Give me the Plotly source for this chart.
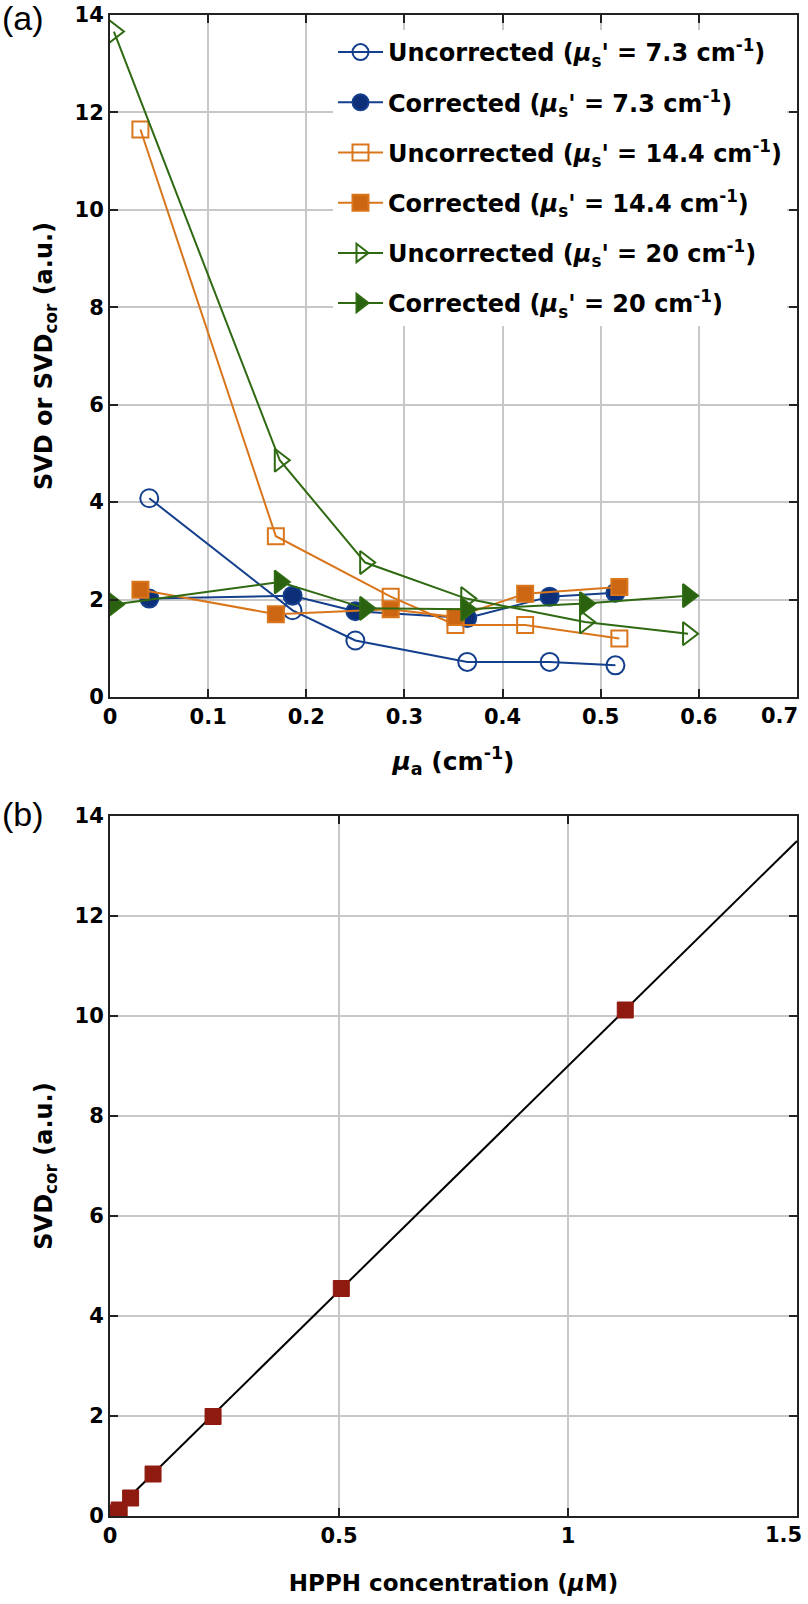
import plotly.graph_objects as go

# ---------------- Panel (a) data ----------------
unc73_x = [0.040, 0.186, 0.250, 0.364, 0.448, 0.515]
unc73_y = [4.08, 1.78, 1.16, 0.72, 0.72, 0.65]
cor73_x = [0.040, 0.186, 0.250, 0.364, 0.448, 0.515]
cor73_y = [2.02, 2.08, 1.76, 1.62, 2.06, 2.14]

unc144_x = [0.031, 0.169, 0.286, 0.352, 0.423, 0.519]
unc144_y = [11.65, 3.30, 2.06, 1.48, 1.48, 1.20]
cor144_x = [0.031, 0.169, 0.286, 0.352, 0.423, 0.519]
cor144_y = [2.20, 1.70, 1.80, 1.64, 2.12, 2.26]

unc20_x = [0.004, 0.173, 0.260, 0.363, 0.484, 0.589]
unc20_y = [13.66, 4.86, 2.76, 2.02, 1.54, 1.30]
cor20_x = [0.004, 0.173, 0.260, 0.363, 0.484, 0.589]
cor20_y = [1.90, 2.36, 1.82, 1.80, 1.92, 2.08]

xa_ticks = [0, 0.1, 0.2, 0.3, 0.4, 0.5, 0.6, 0.7]
xa_ticklabels = ["0", "0.1", "0.2", "0.3", "0.4", "0.5", "0.6", "0.7"]
ya_ticks = [0, 2, 4, 6, 8, 10, 12, 14]

# ---------------- Panel (b) data ----------------
hpph_conc = [0.0, 0.01, 0.02, 0.045, 0.094, 0.225, 0.505, 1.125]
hpph_svd = [0.0, 0.06, 0.12, 0.36, 0.84, 1.99, 4.55, 10.12]
fit_x = [0.0, 1.5]
fit_y = [0.0, 13.5]

xb_ticks = [0, 0.5, 1, 1.5]
xb_ticklabels = ["0", "0.5", "1", "1.5"]
yb_ticks = [0, 2, 4, 6, 8, 10, 12, 14]

BLUE = "#143f8c"
BLUE_F = "#0c2f78"
ORANGE = "#d9761c"
ORANGE_F = "#cc6612"
GREEN = "#2f6a12"
GREEN_F = "#2a6210"
RED = "#8e1a10"

FONT = "DejaVu Sans, Liberation Sans, sans-serif"
LABFONT = "Liberation Sans, Arial, sans-serif"

fig = go.Figure()

def lab(kind, val):
    return (f"{kind} (<i>μ</i><sub>s</sub>' = {val} cm<sup>-1</sup>)")

series = [
    (unc73_x, unc73_y, lab("Uncorrected", "7.3"), BLUE, "circle-open", 18, "white"),
    (cor73_x, cor73_y, lab("Corrected", "7.3"), BLUE, "circle", 18, BLUE_F),
    (unc144_x, unc144_y, lab("Uncorrected", "14.4"), ORANGE, "square-open", 16, "white"),
    (cor144_x, cor144_y, lab("Corrected", "14.4"), ORANGE, "square", 16, ORANGE_F),
    (unc20_x, unc20_y, lab("Uncorrected", "20"), GREEN, "triangle-right-open", 20, "white"),
    (cor20_x, cor20_y, lab("Corrected", "20"), GREEN, "triangle-right", 20, GREEN_F),
]
for i, (xs, ys, name, col, sym, sz, fc) in enumerate(series):
    fig.add_trace(go.Scatter(
        x=xs, y=ys, name=name, mode="lines+markers",
        line=dict(color=col, width=2),
        marker=dict(symbol=sym, size=sz, color=fc if "open" not in sym else col,
                    line=dict(color=col, width=2)),
        legendgroup=f"g{i}",
        xaxis="x", yaxis="y",
    ))

fig.add_trace(go.Scatter(
    x=fit_x, y=fit_y, mode="lines", line=dict(color="black", width=2),
    showlegend=False, xaxis="x2", yaxis="y2"))
fig.add_trace(go.Scatter(
    x=hpph_conc, y=hpph_svd, mode="markers",
    marker=dict(symbol="square", size=16, color=RED, line=dict(color=RED, width=1)),
    showlegend=False, xaxis="x2", yaxis="y2"))

# layout geometry (pixels)
ML, MR, MT, MB = 110, 11, 15, 88
PW = 808 - ML - MR
PH = 1604 - MT - MB
A_BOTTOM, B_TOP = 697, 816
BOT = 1604 - MB

def py(px_from_top):
    return (BOT - px_from_top) / PH

def pxx(px_from_left):
    return (px_from_left - ML) / PW

TICKFONT = dict(family=FONT, size=21, color="black", weight="bold")
axis_common = dict(
    showline=True, linecolor="#222222", linewidth=2, mirror="ticks",
    ticks="inside", ticklen=8, tickwidth=2, tickcolor="#222222",
    showgrid=True, gridcolor="#c8c8c8", gridwidth=1.5,
    zeroline=False, automargin=False,
    tickfont=TICKFONT,
)
YTITLE = dict(family=FONT, size=24, color="black", weight="bold")
XTITLE = dict(family=FONT, size=23, color="black", weight="bold")

# the last tick label of each x axis sits pulled inside the figure edge
edge_labels = [
    dict(text=xa_ticklabels[-1], x=pxx(800), y=py(716), xref="paper", yref="paper",
         xanchor="right", yanchor="middle", showarrow=False, font=TICKFONT),
    dict(text=xb_ticklabels[-1], x=pxx(804), y=py(1535), xref="paper", yref="paper",
         xanchor="right", yanchor="middle", showarrow=False, font=TICKFONT),
]

fig.update_layout(
    width=808, height=1604,
    margin=dict(l=ML, r=MR, t=MT, b=MB, autoexpand=False),
    paper_bgcolor="white", plot_bgcolor="white",
    font=dict(family=FONT, color="black"),
    showlegend=True,
    legend=dict(
        x=pxx(333), y=py(30), xanchor="left", yanchor="top",
        bgcolor="white", borderwidth=0,
        font=dict(family=FONT, size=24, color="black", weight="bold"),
        itemwidth=45, tracegroupgap=16,
    ),
    xaxis=dict(domain=[0, 1], anchor="y", range=[0, 0.7],
               tickvals=xa_ticks, ticktext=xa_ticklabels[:-1] + [""],
               title=dict(text="<i>μ</i><sub>a</sub> (cm<sup>-1</sup>)", standoff=24,
                          font=dict(family=FONT, size=25, color="black", weight="bold")),
               **axis_common),
    yaxis=dict(domain=[py(A_BOTTOM), 1], anchor="x", range=[0, 14],
               tickvals=ya_ticks,
               title=dict(text="SVD or SVD<sub>cor</sub> (a.u.)", standoff=15,
                          font=YTITLE),
               **axis_common),
    xaxis2=dict(domain=[0, 1], anchor="y2", range=[0, 1.5],
                tickvals=xb_ticks, ticktext=xb_ticklabels[:-1] + [""],
                title=dict(text="HPPH concentration (<i>μ</i>M)", standoff=28,
                           font=XTITLE),
                **axis_common),
    yaxis2=dict(domain=[0, py(B_TOP)], anchor="x2", range=[0, 14],
                tickvals=yb_ticks,
                title=dict(text="SVD<sub>cor</sub> (a.u.)", standoff=15,
                           font=YTITLE),
                **axis_common),
    annotations=edge_labels + [
        dict(text="(a)", x=pxx(0), y=py(18), xref="paper", yref="paper",
             xanchor="left", yanchor="middle", showarrow=False,
             font=dict(family=LABFONT, size=34, color="black")),
        dict(text="(b)", x=pxx(0), y=py(814), xref="paper", yref="paper",
             xanchor="left", yanchor="middle", showarrow=False,
             font=dict(family=LABFONT, size=34, color="black")),
    ],
)

fig.write_html("out.html",
               config={"displayModeBar": False},
               post_script="document.body.style.margin='0px';"
                           "document.body.style.overflow='hidden';")
